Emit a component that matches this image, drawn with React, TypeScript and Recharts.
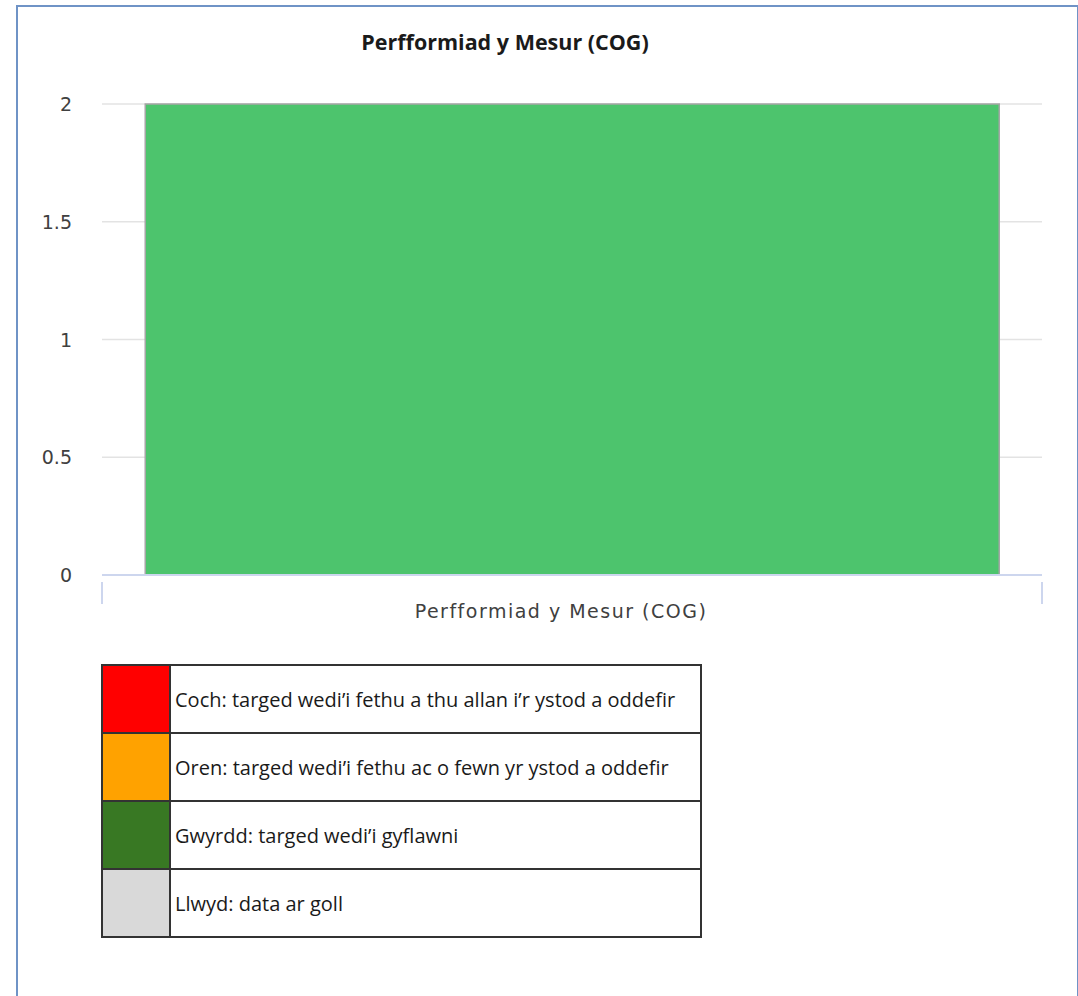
import { BarChart, Bar, XAxis, YAxis, CartesianGrid } from 'recharts';

const categories = ['Perfformiad y Mesur (COG)'];
const values = [2];
const yTicks = [0, 0.5, 1, 1.5, 2];

const legendLabels = [
  'Coch: targed wedi’i fethu a thu allan i’r ystod a oddefir',
  'Oren: targed wedi’i fethu ac o fewn yr ystod a oddefir',
  'Gwyrdd: targed wedi’i gyflawni',
  'Llwyd: data ar goll',
];
const legendColors = ['#ff0000', '#ffa200', '#387823', '#d9d9d9'];

const chartData = categories.map((name, i) => ({ name, value: values[i] }));

const PLOT_LEFT = 102;
const PLOT_RIGHT = 1042;

function CategoryTick(props: any) {
  const { x, y, payload } = props;
  return (
    <g>
      <line x1={PLOT_LEFT} x2={PLOT_LEFT} y1={y - 1} y2={y + 21} stroke="#cdd6ee" strokeWidth={2} />
      <line x1={PLOT_RIGHT} x2={PLOT_RIGHT} y1={y - 1} y2={y + 21} stroke="#cdd6ee" strokeWidth={2} />
      <text
        x={x - 11}
        y={y + 35}
        textAnchor="middle"
        fill="#404040"
        fontSize={19}
        fontFamily="DejaVu Sans"
        letterSpacing={1.5}
      >
        {payload.value}
      </text>
    </g>
  );
}

function ValueTick(props: any) {
  const { x, y, payload } = props;
  return (
    <text x={x} y={y + 7} textAnchor="end" fill="#404040" fontSize={19} fontFamily="DejaVu Sans">
      {payload.value}
    </text>
  );
}

export default function App() {
  return (
    <div style={{ position: 'absolute', left: 0, top: 0, width: 1078, height: 996, background: '#fff', overflow: 'hidden' }}>
      <div
        style={{
          position: 'absolute',
          left: 16,
          top: 5,
          width: 1059,
          height: 1010,
          borderLeft: '2px solid #6f93c6',
          borderTop: '2px solid #6f93c6',
          borderRight: '2px solid #6f93c6',
        }}
      />
      <div
        style={{
          position: 'absolute',
          left: 0,
          width: 1010,
          top: 27,
          textAlign: 'center',
          fontFamily: 'Open Sans',
          fontWeight: 700,
          fontSize: 21.5,
          color: '#1a1a1a',
        }}
      >
        Perfformiad y Mesur (COG)
      </div>
      <div style={{ position: 'absolute', left: 0, top: 0 }}>
        <BarChart
          width={1078}
          height={640}
          data={chartData}
          margin={{ top: 104, right: 1078 - PLOT_RIGHT, bottom: 25, left: 42 }}
          barCategoryGap="4.6%"
        >
          <CartesianGrid vertical={false} stroke="#e3e3e3" strokeWidth={1.5} />
          <XAxis
            dataKey="name"
            height={40}
            stroke="#cdd6ee"
            strokeWidth={2}
            tickLine={false}
            tick={<CategoryTick />}
            interval={0}
          />
          <YAxis
            width={60}
            domain={[0, 2]}
            ticks={yTicks}
            axisLine={false}
            tickLine={false}
            tickMargin={24}
            tick={<ValueTick />}
          />
          <Bar dataKey="value" fill="#4dc46d" stroke="#a6a6a6" strokeWidth={1.5} isAnimationActive={false} />
        </BarChart>
      </div>
      <table
        style={{
          position: 'absolute',
          left: 101,
          top: 664,
          width: 601,
          borderCollapse: 'collapse',
          fontFamily: 'Open Sans',
          fontSize: 20,
          color: '#1a1a1a',
        }}
      >
        <tbody>
          {legendLabels.map((label, i) => (
            <tr key={label} style={{ height: 68 }}>
              <td style={{ width: 66, background: legendColors[i], border: '2px solid #333', padding: 0 }} />
              <td style={{ border: '2px solid #333', padding: '0 0 0 4px', letterSpacing: 0 }}>{label}</td>
            </tr>
          ))}
        </tbody>
      </table>
    </div>
  );
}
